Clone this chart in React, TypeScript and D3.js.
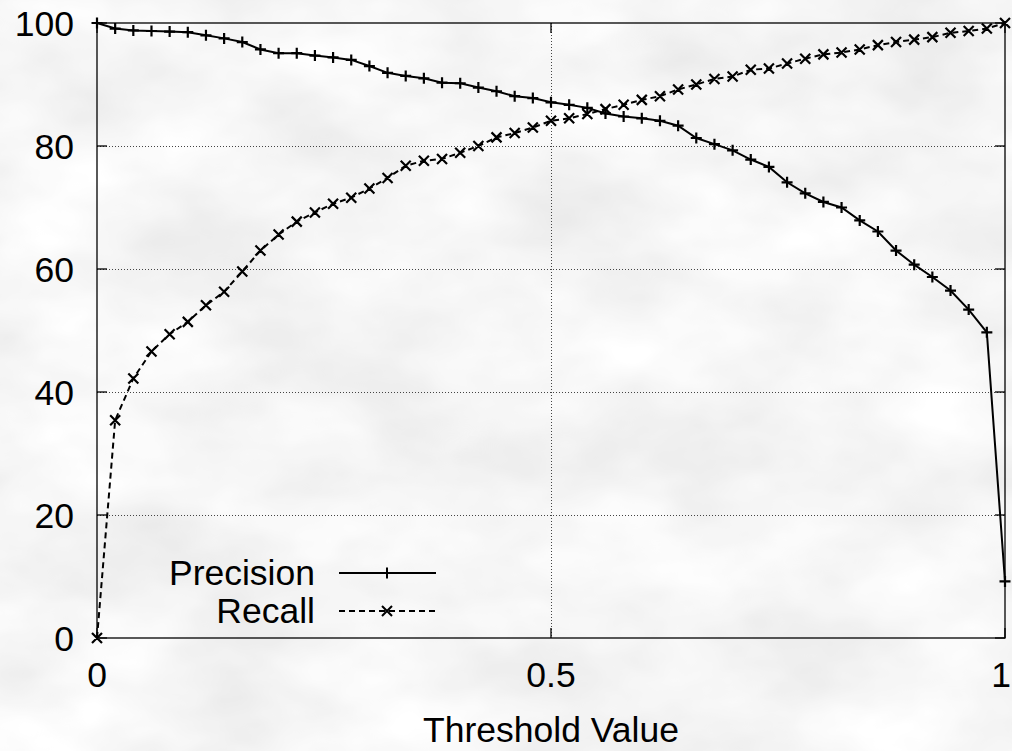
import { useEffect, useRef } from 'react'
import * as d3 from 'd3'

// threshold values (x axis)
const thresholds = [
  0, 0.02, 0.04, 0.06, 0.08, 0.1, 0.12, 0.14, 0.16, 0.18,
  0.2, 0.22, 0.24, 0.26, 0.28, 0.3, 0.32, 0.34, 0.36, 0.38,
  0.4, 0.42, 0.44, 0.46, 0.48, 0.5, 0.52, 0.54, 0.56, 0.58,
  0.6, 0.62, 0.64, 0.66, 0.68, 0.7, 0.72, 0.74, 0.76, 0.78,
  0.8, 0.82, 0.84, 0.86, 0.88, 0.9, 0.92, 0.94, 0.96, 0.98, 1,
]

const precision = [
  100, 99.1, 98.8, 98.7, 98.6, 98.5, 98.0, 97.5, 96.9, 95.7,
  95.1, 95.1, 94.7, 94.4, 94.0, 93.0, 91.9, 91.4, 91.0, 90.3,
  90.2, 89.5, 88.9, 88.1, 87.8, 87.1, 86.7, 86.2, 85.3, 84.8,
  84.5, 84.1, 83.3, 81.3, 80.3, 79.3, 77.8, 76.6, 74.1, 72.3,
  70.9, 70.0, 67.9, 66.1, 63.0, 60.7, 58.7, 56.5, 53.4, 49.7, 9.2,
]

const recall = [
  0, 35.4, 42.2, 46.6, 49.4, 51.4, 54.1, 56.3, 59.6, 63.0,
  65.6, 67.7, 69.2, 70.6, 71.6, 73.1, 74.8, 76.8, 77.6, 77.9,
  78.9, 80.0, 81.4, 82.1, 83.0, 84.1, 84.5, 85.2, 86.0, 86.7,
  87.5, 88.1, 89.2, 90.0, 90.9, 91.3, 92.4, 92.6, 93.4, 94.2,
  94.9, 95.2, 95.7, 96.4, 96.9, 97.3, 97.7, 98.4, 98.7, 99.1, 100,
]

const xTicks = [0, 0.5, 1]
const xTickLabels = ['0', '0.5', '1']
const yTicks = [0, 20, 40, 60, 80, 100]
const yTickLabels = ['0', '20', '40', '60', '80', '100']

const seriesNames = ['Precision', 'Recall']

const FONT = '"Liberation Sans", Arial, Helvetica, sans-serif'

export default function App() {
  const svgRef = useRef<SVGSVGElement>(null)

  useEffect(() => {
    if (!svgRef.current) return
    const svg = d3.select(svgRef.current)
    svg.selectAll('*').remove()

    const width = 1012
    const height = 751
    const left = 97, right = 1005, top = 23, bottom = 638

    svg.attr('width', width).attr('height', height)

    // paper-like background
    const defs = svg.append('defs')
    const filter = defs.append('filter')
      .attr('id', 'paper')
      .attr('x', 0).attr('y', 0).attr('width', '100%').attr('height', '100%')
    filter.append('feTurbulence')
      .attr('type', 'fractalNoise')
      .attr('baseFrequency', '0.006 0.01')
      .attr('numOctaves', 4)
      .attr('seed', 7)
    filter.append('feColorMatrix')
      .attr('type', 'matrix')
      .attr('values', '1 0 0 0 0  1 0 0 0 0  1 0 0 0 0  0 0 0 0 1')
    const ct = filter.append('feComponentTransfer')
    ;['feFuncR', 'feFuncG', 'feFuncB'].forEach(f =>
      ct.append(f).attr('type', 'linear').attr('slope', 0.3).attr('intercept', 0.77))

    svg.append('rect')
      .attr('width', width).attr('height', height)
      .attr('fill', '#ebebeb')
    svg.append('rect')
      .attr('width', width).attr('height', height)
      .attr('filter', 'url(#paper)')

    const x = d3.scaleLinear().domain([0, 1]).range([left, right])
    const y = d3.scaleLinear().domain([0, 100]).range([bottom, top])

    // grid
    const grid = svg.append('g')
      .attr('stroke', '#444')
      .attr('stroke-width', 1)
      .attr('stroke-dasharray', '1,2')
    yTicks.filter(t => t > 0 && t < 100).forEach(t => {
      grid.append('line')
        .attr('x1', left).attr('x2', right)
        .attr('y1', y(t) + 0.5).attr('y2', y(t) + 0.5)
    })
    xTicks.filter(t => t > 0 && t < 1).forEach(t => {
      grid.append('line')
        .attr('x1', x(t) + 0.5).attr('x2', x(t) + 0.5)
        .attr('y1', top).attr('y2', bottom)
    })

    // ticks (inward, both sides)
    const ticks = svg.append('g').attr('stroke', '#000').attr('stroke-width', 1.3)
    yTicks.forEach(t => {
      ticks.append('line').attr('x1', left).attr('x2', left + 10).attr('y1', y(t)).attr('y2', y(t))
      ticks.append('line').attr('x1', right).attr('x2', right - 10).attr('y1', y(t)).attr('y2', y(t))
    })
    xTicks.forEach(t => {
      ticks.append('line').attr('x1', x(t)).attr('x2', x(t)).attr('y1', bottom).attr('y2', bottom - 10)
      ticks.append('line').attr('x1', x(t)).attr('x2', x(t)).attr('y1', top).attr('y2', top + 10)
    })

    // frame
    svg.append('rect')
      .attr('x', left).attr('y', top)
      .attr('width', right - left).attr('height', bottom - top)
      .attr('fill', 'none')
      .attr('stroke', '#000')
      .attr('stroke-width', 1.3)

    // tick labels
    const labels = svg.append('g')
      .attr('font-family', FONT)
      .attr('font-size', 35.5)
      .attr('fill', '#000')
    yTicks.forEach((t, i) => {
      labels.append('text')
        .attr('x', 74).attr('y', y(t) + 12.5)
        .attr('text-anchor', 'end')
        .text(yTickLabels[i])
    })
    xTicks.forEach((t, i) => {
      // the last label would spill over the right edge, so pin it there
      const last = i === xTicks.length - 1
      labels.append('text')
        .attr('x', last ? width - 1 : x(t)).attr('y', 687)
        .attr('text-anchor', last ? 'end' : 'middle')
        .text(xTickLabels[i])
    })
    labels.append('text')
      .attr('x', x(0.5)).attr('y', 742)
      .attr('text-anchor', 'middle')
      .text('Threshold Value')

    // series
    const line = d3.line<number>()
      .x((_, i) => x(thresholds[i]))
      .y(d => y(d))

    const plusPath = (cx: number, cy: number) =>
      `M${cx - 5.5},${cy}H${cx + 5.5}M${cx},${cy - 5.5}V${cy + 5.5}`
    const crossPath = (cx: number, cy: number) =>
      `M${cx - 5},${cy - 5}L${cx + 5},${cy + 5}M${cx - 5},${cy + 5}L${cx + 5},${cy - 5}`

    const series = [
      { name: seriesNames[0], values: precision, dash: null, marker: plusPath },
      { name: seriesNames[1], values: recall, dash: '6,4', marker: crossPath },
    ]

    series.forEach(s => {
      svg.append('path')
        .attr('d', line(s.values))
        .attr('fill', 'none')
        .attr('stroke', '#000')
        .attr('stroke-width', 2)
        .attr('stroke-dasharray', s.dash)
      svg.append('path')
        .attr('d', s.values.map((v, i) => s.marker(x(thresholds[i]), y(v))).join(''))
        .attr('fill', 'none')
        .attr('stroke', '#000')
        .attr('stroke-width', 2.2)
    })

    // legend
    const legendY = [573, 611]
    series.forEach((s, i) => {
      labels.append('text')
        .attr('x', 315).attr('y', legendY[i] + 12)
        .attr('text-anchor', 'end')
        .text(s.name)
      svg.append('line')
        .attr('x1', 339).attr('x2', 436)
        .attr('y1', legendY[i]).attr('y2', legendY[i])
        .attr('stroke', '#000')
        .attr('stroke-width', 2)
        .attr('stroke-dasharray', s.dash)
      svg.append('path')
        .attr('d', s.marker(387, legendY[i]))
        .attr('stroke', '#000')
        .attr('stroke-width', 2)
    })
  }, [])

  return (
    <div style={{ position: 'absolute', left: 0, top: 0 }}>
      <svg ref={svgRef} style={{ display: 'block' }} />
    </div>
  )
}
